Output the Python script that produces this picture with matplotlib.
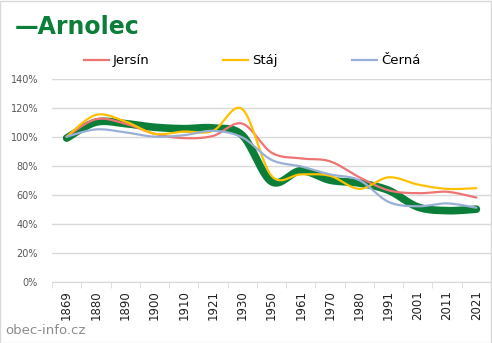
import numpy as np
import matplotlib
matplotlib.use('Agg')
import matplotlib.pyplot as plt
from matplotlib.lines import Line2D
from matplotlib.patches import Rectangle

years = ['1869', '1880', '1890', '1900', '1910', '1921', '1930', '1950',
         '1961', '1970', '1980', '1991', '2001', '2011', '2021']

# percent of 1869 population
arnolec = [99, 110, 109, 106.5, 105.5, 106, 101, 69, 76.5, 70, 68, 63, 51.5, 49, 50]
jersin = [100, 112, 109, 102, 99, 100.5, 109, 89, 85, 83, 72, 63, 61, 62, 58]
staj = [100, 115, 110.5, 102, 103.5, 104, 119, 73, 74, 73, 64, 72, 67, 64, 64.5]
cerna = [100, 105, 103, 100, 101, 104, 99.5, 84, 79.5, 74, 70, 55, 52, 54, 51]

GREEN = '#0B7E3A'
RED = '#EE7474'
YELLOW = '#FFC000'
BLUE = '#9AAFD5'


def smooth(y, steps=20):
    # Excel-like smoothed line (cubic bezier, catmull-rom control points)
    x = np.arange(len(y), dtype=float)
    y = np.asarray(y, dtype=float) / 100.0
    pts = np.column_stack([x, y])
    out = []
    n = len(pts)
    for i in range(n - 1):
        p0 = pts[max(i - 1, 0)]
        p1 = pts[i]
        p2 = pts[i + 1]
        p3 = pts[min(i + 2, n - 1)]
        c1 = p1 + (p2 - p0) / 6.0
        c2 = p2 - (p3 - p1) / 6.0
        t = np.linspace(0, 1, steps)[:, None]
        seg = ((1 - t) ** 3) * p1 + 3 * ((1 - t) ** 2) * t * c1 + 3 * (1 - t) * t ** 2 * c2 + t ** 3 * p2
        out.append(seg if i == 0 else seg[1:])
    seg = np.vstack(out)
    return seg[:, 0], seg[:, 1]


fig = plt.figure(figsize=(4.92, 3.43), dpi=100)
ax = fig.add_axes([0.1057, 0.1787, 0.8923, 0.592])

for vals, col, lw in [(arnolec, GREEN, 5.5), (jersin, RED, 1.6),
                      (staj, YELLOW, 1.6), (cerna, BLUE, 1.6)]:
    sx, sy = smooth(vals)
    ax.plot(sx, sy, color=col, lw=lw, solid_capstyle='round')

ax.set_ylim(0, 1.4)
ax.set_xlim(-0.5, len(years) - 0.5)
ax.set_yticks(np.arange(0, 1.41, 0.2))
ax.set_yticklabels(['{}%'.format(int(round(v * 100))) for v in np.arange(0, 1.41, 0.2)])
ax.yaxis.grid(True, color='#D9D9D9', lw=1)
ax.set_axisbelow(True)
ax.set_xticks(range(len(years)))
ax.set_xticklabels(years, rotation=90, fontsize=8.5, color='#222222')
ax.set_xticks(np.arange(-0.5, len(years), 1), minor=True)
ax.tick_params(axis='x', which='major', length=0, pad=6)
ax.tick_params(axis='x', which='minor', length=4, color='#D9D9D9')
ax.tick_params(axis='y', length=0, labelsize=7, labelcolor='#595959', pad=10)
for s in ['top', 'right', 'left']:
    ax.spines[s].set_visible(False)
ax.spines['bottom'].set_color('#D9D9D9')

fig.text(0.03, 0.922, '\u2014Arnolec', color=GREEN, fontsize=17, fontweight='bold',
         va='center', ha='left')

handles = [Line2D([0], [0], color=c, lw=1.6) for c in (RED, YELLOW, BLUE)]
fig.legend(handles, ['Jersín', 'Stáj', 'Černá'], ncol=3, loc='center',
           bbox_to_anchor=(0.512, 0.823), frameon=False, fontsize=9.5,
           handlelength=1.9, handletextpad=0.3, columnspacing=5.6)

fig.text(0.01, 0.035, 'obec-info.cz', color='#8C8C8C', fontsize=9.5, ha='left', va='center')

fig.patches.append(Rectangle((0.001, 0.001), 0.997, 0.996, transform=fig.transFigure,
                             fill=False, edgecolor='#D9D9D9', lw=1))

fig.savefig('out.png', dpi=100)
